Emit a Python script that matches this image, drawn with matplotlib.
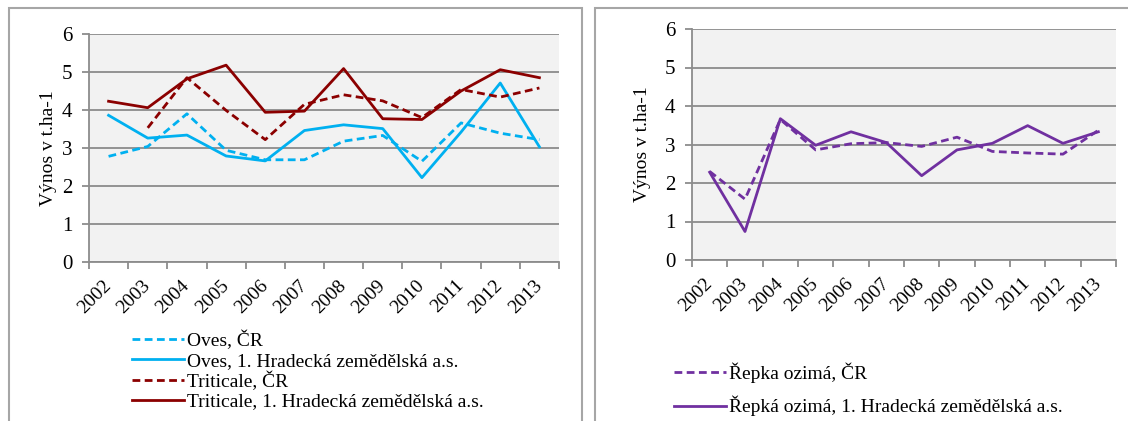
import numpy as np
import matplotlib
matplotlib.use("Agg")
import matplotlib.pyplot as plt
from matplotlib.patches import Rectangle

plt.rcParams['font.family'] = ['Liberation Serif', 'DejaVu Serif']

# Data ::
years = ['2002', '2003', '2004', '2005', '2006', '2007',
         '2008', '2009', '2010', '2011', '2012', '2013']

oves_cr = [2.78, 3.04, 3.90, 2.94, 2.69, 2.69, 3.18, 3.33, 2.65, 3.66, 3.39, 3.22]
oves_hz = [3.86, 3.26, 3.34, 2.79, 2.66, 3.46, 3.61, 3.51, 2.22, 3.42, 4.71, 3.03]
triticale_cr = [np.nan, 3.53, 4.85, 3.99, 3.22, 4.15, 4.40, 4.24, 3.80, 4.54, 4.34, 4.58]
triticale_hz = [4.23, 4.06, 4.82, 5.18, 3.94, 3.97, 5.09, 3.77, 3.75, 4.50, 5.06, 4.85]

repka_cr = [2.30, 1.58, 3.65, 2.86, 3.02, 3.05, 2.95, 3.19, 2.82, 2.78, 2.75, 3.37]
repka_hz = [2.28, 0.74, 3.67, 2.98, 3.33, 3.05, 2.19, 2.86, 3.03, 3.49, 3.03, 3.33]

labels_left = ['Oves, ČR', 'Oves, 1. Hradecká zemědělská a.s.',
               'Triticale, ČR', 'Triticale, 1. Hradecká zemědělská a.s.']
labels_right = ['Řepka ozimá, ČR', 'Řepká ozimá, 1. Hradecká zemědělská a.s.']

BLUE = '#00B0F0'
RED = '#8B0000'
PURPLE = '#7030A0'
DASH = (0, (2.8, 1.6))

W, H = 1128, 421
fig = plt.figure(figsize=(W / 100, H / 100), dpi=100)

# chart frames
for x0, x1 in [(9, 582), (595, 1140)]:
    fig.patches.append(Rectangle((x0 / W, -0.05), (x1 - x0) / W, (H - 8) / H + 0.05,
                                 transform=fig.transFigure, fill=False,
                                 edgecolor='#A6A6A6', lw=1.5))


def style_axes(ax, label_x):
    x = np.arange(len(years))
    ax.set_facecolor('#F2F2F2')
    ax.set_xlim(-0.5, len(years) - 0.5)
    ax.set_ylim(0, 6)
    ax.set_yticks(range(0, 7))
    ax.grid(axis='y', color='#8C8C8C', lw=1.3)
    ax.set_axisbelow(True)
    for s in ['top', 'right']:
        ax.spines[s].set_visible(False)
    for s in ['left', 'bottom']:
        ax.spines[s].set_color('#8C8C8C')
        ax.spines[s].set_linewidth(1.3)
    ax.set_xticks(np.arange(-0.5, len(years)), minor=True)
    ax.set_xticks(x)
    ax.set_xticklabels(years, rotation=45, ha='right', va='center',
                       rotation_mode='anchor', fontsize=14)
    ax.tick_params(axis='x', which='major', length=0, pad=15)
    ax.tick_params(axis='x', which='minor', length=5, color='#8C8C8C', width=1.3)
    ax.tick_params(axis='y', length=5, color='#8C8C8C', width=1.3, labelsize=15, pad=7)
    ax.set_ylabel('Výnos v t.ha-1', fontsize=14)
    ax.yaxis.set_label_coords(label_x, 0.5)
    return x


# Left chart ::
ax1 = fig.add_axes([89 / W, (H - 262) / H, (559 - 89) / W, (262 - 34) / H])
x = style_axes(ax1, -32 / 470)
l1, = ax1.plot(x, oves_cr, color=BLUE, lw=2, ls=DASH)
l2, = ax1.plot(x, oves_hz, color=BLUE, lw=2)
l3, = ax1.plot(x, triticale_cr, color=RED, lw=2, ls=DASH)
l4, = ax1.plot(x, triticale_hz, color=RED, lw=2)
fig.legend([l1, l2, l3, l4], labels_left, loc='upper left',
           bbox_to_anchor=(122 / W, 1 - 321 / H), frameon=False, fontsize=14,
           handlelength=2.7, handletextpad=0.12, labelspacing=0.1, borderpad=0)

# Right chart ::
ax2 = fig.add_axes([692 / W, (H - 260) / H, (1116 - 692) / W, (260 - 29) / H])
x = style_axes(ax2, -41 / 424)
r1, = ax2.plot(x, repka_cr, color=PURPLE, lw=2, ls=DASH)
r2, = ax2.plot(x, repka_hz, color=PURPLE, lw=2)
fig.legend([r1, r2], labels_right, loc='upper left',
           bbox_to_anchor=(664 / W, 1 - 353 / H), frameon=False, fontsize=14,
           handlelength=2.7, handletextpad=0.12, labelspacing=0.65, borderpad=0)

plt.savefig('out.png', dpi=100)
